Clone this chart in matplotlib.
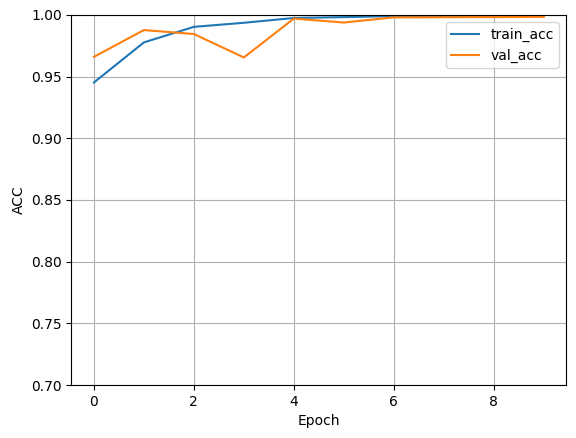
import numpy as np
import matplotlib
matplotlib.use("Agg")
import matplotlib.pyplot as plt

# Dokładność na kolejnych epokach
epoki = np.arange(10)
train_acc = [0.9452, 0.9777, 0.9903, 0.9936, 0.9975, 0.9982, 0.9990, 0.9992, 0.9995, 0.9995]
val_acc = [0.9660, 0.9877, 0.9845, 0.9655, 0.9970, 0.9938, 0.9980, 0.9981, 0.9982, 0.9984]

plt.figure(figsize=(5.76, 4.38), dpi=100)
plt.plot(epoki, train_acc, label='train_acc')
plt.plot(epoki, val_acc, label='val_acc')
plt.ylim(0.7, 1.0)
plt.xlabel('Epoch')
plt.ylabel('ACC')
plt.grid(True)
plt.legend()
plt.subplots_adjust(left=0.124, right=0.983, top=0.966, bottom=0.121)
plt.savefig('out.png', dpi=100)
